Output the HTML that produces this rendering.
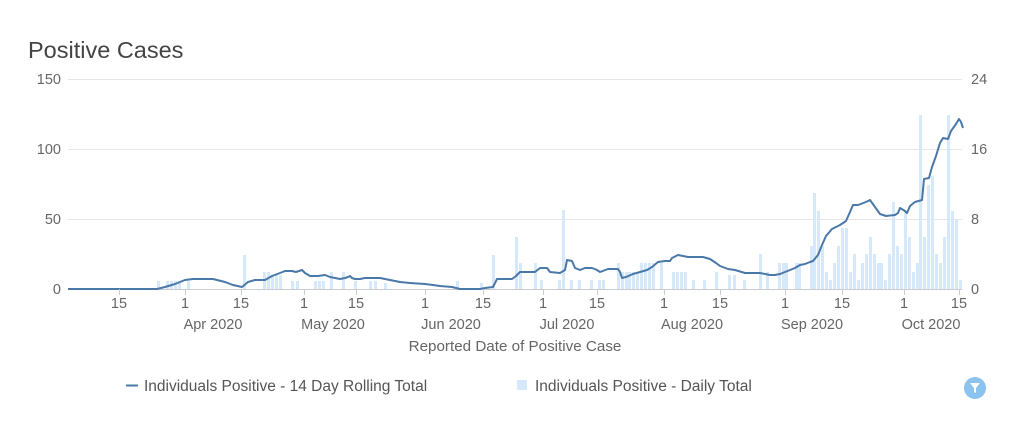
<!DOCTYPE html>
<html><head><meta charset="utf-8"><style>
html,body{margin:0;padding:0;background:#fff;width:1023px;height:430px;overflow:hidden}
svg{display:block;font-family:"Liberation Sans",sans-serif}
</style></head><body>
<svg width="1023" height="430" viewBox="0 0 1023 430">
<text x="28" y="58" font-size="23.5" fill="#444">Positive Cases</text>
<g stroke="#e6e6e6" stroke-width="1">
<line x1="68" y1="79.5" x2="962" y2="79.5"/><line x1="68" y1="149.5" x2="962" y2="149.5"/><line x1="68" y1="219.5" x2="962" y2="219.5"/>
</g>
<g fill="#666" font-size="14.5" text-anchor="end">
<text x="61" y="84">150</text><text x="61" y="154">100</text><text x="61" y="224">50</text><text x="61" y="294">0</text>
</g>
<g fill="#666" font-size="14.5">
<text x="971" y="84">24</text><text x="971" y="154">16</text><text x="971" y="224">8</text><text x="971" y="294">0</text>
</g>
<g fill="#d6e9fb">
<rect x="157" y="281" width="3" height="8"/><rect x="166" y="281" width="3" height="8"/><rect x="170" y="281" width="3" height="8"/><rect x="174" y="281" width="3" height="8"/><rect x="178" y="281" width="3" height="8"/><rect x="187" y="281" width="3" height="8"/>
<rect x="243" y="255" width="3" height="34"/>
<rect x="263" y="272" width="3" height="17"/><rect x="267" y="272" width="3" height="17"/><rect x="271" y="275" width="3" height="14"/><rect x="275" y="275" width="3" height="14"/><rect x="279" y="275" width="3" height="14"/>
<rect x="291" y="281" width="3" height="8"/><rect x="296" y="281" width="3" height="8"/>
<rect x="314" y="281" width="3" height="8"/><rect x="318" y="281" width="3" height="8"/><rect x="322" y="281" width="3" height="8"/><rect x="330" y="272" width="3" height="17"/><rect x="342" y="272" width="3" height="17"/><rect x="354" y="281" width="3" height="8"/><rect x="369" y="281" width="3" height="8"/><rect x="374" y="281" width="3" height="8"/><rect x="384" y="283" width="3" height="6"/>
<rect x="456" y="281" width="3" height="8"/><rect x="480" y="283" width="3" height="6"/><rect x="492" y="255" width="3" height="34"/><rect x="515" y="237" width="3" height="52"/><rect x="519" y="263" width="3" height="26"/><rect x="534" y="263" width="3" height="26"/>
<rect x="540" y="280" width="3" height="9"/><rect x="558" y="280" width="3" height="9"/><rect x="562" y="210" width="3" height="79"/><rect x="570" y="280" width="3" height="9"/><rect x="578" y="280" width="3" height="9"/><rect x="590" y="280" width="3" height="9"/><rect x="598" y="280" width="3" height="9"/><rect x="602" y="280" width="3" height="9"/>
<rect x="617" y="263" width="3" height="26"/><rect x="621" y="272" width="3" height="17"/><rect x="625" y="272" width="3" height="17"/><rect x="628" y="272" width="3" height="17"/><rect x="632" y="272" width="3" height="17"/><rect x="636" y="272" width="3" height="17"/><rect x="640" y="263" width="3" height="26"/><rect x="644" y="263" width="3" height="26"/><rect x="648" y="263" width="3" height="26"/><rect x="652" y="263" width="3" height="26"/><rect x="660" y="263" width="3" height="26"/>
<rect x="672" y="272" width="3" height="17"/><rect x="676" y="272" width="3" height="17"/><rect x="680" y="272" width="3" height="17"/><rect x="684" y="272" width="3" height="17"/><rect x="692" y="280" width="3" height="9"/><rect x="703" y="280" width="3" height="9"/><rect x="715" y="272" width="3" height="17"/><rect x="728" y="275" width="3" height="14"/><rect x="733" y="275" width="3" height="14"/><rect x="743" y="280" width="3" height="9"/><rect x="759" y="254" width="3" height="35"/><rect x="766" y="272" width="3" height="17"/>
<rect x="778" y="263" width="3" height="26"/><rect x="782" y="263" width="3" height="26"/><rect x="785" y="263" width="3" height="26"/><rect x="795" y="263" width="3" height="26"/><rect x="798" y="263" width="3" height="26"/>
<rect x="810" y="246" width="3" height="43"/><rect x="813" y="193" width="3" height="96"/><rect x="817" y="211" width="3" height="78"/><rect x="821" y="246" width="3" height="43"/><rect x="825" y="272" width="3" height="17"/><rect x="829" y="280" width="3" height="9"/><rect x="833" y="263" width="3" height="26"/><rect x="837" y="246" width="3" height="43"/><rect x="841" y="228" width="3" height="61"/><rect x="845" y="228" width="3" height="61"/><rect x="849" y="272" width="3" height="17"/><rect x="853" y="254" width="3" height="35"/><rect x="857" y="280" width="3" height="9"/><rect x="861" y="263" width="3" height="26"/><rect x="865" y="254" width="3" height="35"/><rect x="869" y="237" width="3" height="52"/><rect x="873" y="254" width="3" height="35"/><rect x="877" y="263" width="3" height="26"/><rect x="880" y="263" width="3" height="26"/><rect x="884" y="280" width="3" height="9"/><rect x="888" y="254" width="3" height="35"/><rect x="892" y="202" width="3" height="87"/><rect x="896" y="246" width="3" height="43"/><rect x="900" y="254" width="3" height="35"/><rect x="904" y="211" width="3" height="78"/><rect x="908" y="237" width="3" height="52"/><rect x="912" y="272" width="3" height="17"/><rect x="916" y="263" width="3" height="26"/><rect x="919" y="115" width="3" height="174"/><rect x="923" y="237" width="3" height="52"/><rect x="927" y="185" width="3" height="104"/><rect x="931" y="176" width="3" height="113"/><rect x="935" y="254" width="3" height="35"/><rect x="939" y="263" width="3" height="26"/><rect x="943" y="237" width="3" height="52"/><rect x="947" y="115" width="3" height="174"/><rect x="951" y="211" width="3" height="78"/><rect x="955" y="219" width="3" height="70"/><rect x="959" y="280" width="3" height="9"/>
</g>
<line x1="68" y1="289.5" x2="962" y2="289.5" stroke="#ccc"/>
<polyline fill="none" stroke="#4a78a8" stroke-width="2" stroke-linejoin="round" points="68,289 157,289 165,287 175,284 185,280 193,279 213,279 225,282 233,285 242,287 248,282 255,280 265,280 272,276 280,273 285,271 292,271 296,272 302,270 305,273 310,276 318,276 325,275 330,277 335,278 340,279 345,278 348,277 350,276 352,278 355,279 360,279 365,278 380,278 385,279 390,280 400,282 410,283 425,284 433,285 440,286 452,287 460,289 480,289 485,288 493,287 497,279 507,279 512,279 516,276 520,272 535,272 540,268 547,268 550,272 560,273 565,270 567,260 572,261 575,268 580,270 585,268 592,268 597,270 600,272 608,269 618,269 620,272 622,278 626,277 633,274 640,272 647,270 652,267 658,262 665,261 670,261 672,258 678,255 688,257 703,257 710,259 716,263 720,266 728,269 735,270 745,273 760,273 770,275 775,275 780,274 785,272 790,270 795,268 800,265 805,264 810,262 813,261 818,255 822,245 826,236 832,229 840,225 846,221 850,212 853,205 858,205 866,202 870,200 875,207 880,214 886,216 895,215 898,213 900,208 905,211 907,213 910,206 915,202 922,200 924,179 929,178 932,167 936,156 940,143 943,138 948,139 951,131 956,124 959,119 961,122 963,128"/>
<g stroke="#ccc"><line x1="119.5" y1="289" x2="119.5" y2="295"/><line x1="185.5" y1="289" x2="185.5" y2="295"/><line x1="241.5" y1="289" x2="241.5" y2="295"/><line x1="304.5" y1="289" x2="304.5" y2="295"/><line x1="356.5" y1="289" x2="356.5" y2="295"/><line x1="425.5" y1="289" x2="425.5" y2="295"/><line x1="483.5" y1="289" x2="483.5" y2="295"/><line x1="543.5" y1="289" x2="543.5" y2="295"/><line x1="597.5" y1="289" x2="597.5" y2="295"/><line x1="664.5" y1="289" x2="664.5" y2="295"/><line x1="720.5" y1="289" x2="720.5" y2="295"/><line x1="785.5" y1="289" x2="785.5" y2="295"/><line x1="842.5" y1="289" x2="842.5" y2="295"/><line x1="904.5" y1="289" x2="904.5" y2="295"/><line x1="959.5" y1="289" x2="959.5" y2="295"/></g>
<g fill="#666" font-size="14.5" text-anchor="middle">
<text x="119" y="308">15</text><text x="185" y="308">1</text><text x="241" y="308">15</text><text x="304" y="308">1</text><text x="356" y="308">15</text><text x="425" y="308">1</text><text x="483" y="308">15</text><text x="543" y="308">1</text><text x="597" y="308">15</text><text x="664" y="308">1</text><text x="720" y="308">15</text><text x="785" y="308">1</text><text x="842" y="308">15</text><text x="904" y="308">1</text><text x="959" y="308">15</text>
<text x="213" y="329">Apr 2020</text><text x="333" y="329">May 2020</text><text x="451" y="329">Jun 2020</text><text x="567" y="329">Jul 2020</text><text x="692" y="329">Aug 2020</text><text x="812" y="329">Sep 2020</text><text x="931" y="329">Oct 2020</text>
<text x="515" y="351" font-size="15.2">Reported Date of Positive Case</text>
</g>
<line x1="126" y1="385.5" x2="138" y2="385.5" stroke="#4a78a8" stroke-width="2"/>
<text x="144" y="391" font-size="15.5" fill="#555">Individuals Positive - 14 Day Rolling Total</text>
<rect x="517" y="380" width="10" height="10" fill="#d6e9fb"/>
<text x="535" y="391" font-size="15.5" fill="#555">Individuals Positive - Daily Total</text>
<circle cx="975" cy="388" r="11" fill="#8cc3ee"/>
<path d="M970 383 h10 l-4 5 v5 l-2 -1 v-4 z" fill="#fff"/>
</svg>
</body></html>
